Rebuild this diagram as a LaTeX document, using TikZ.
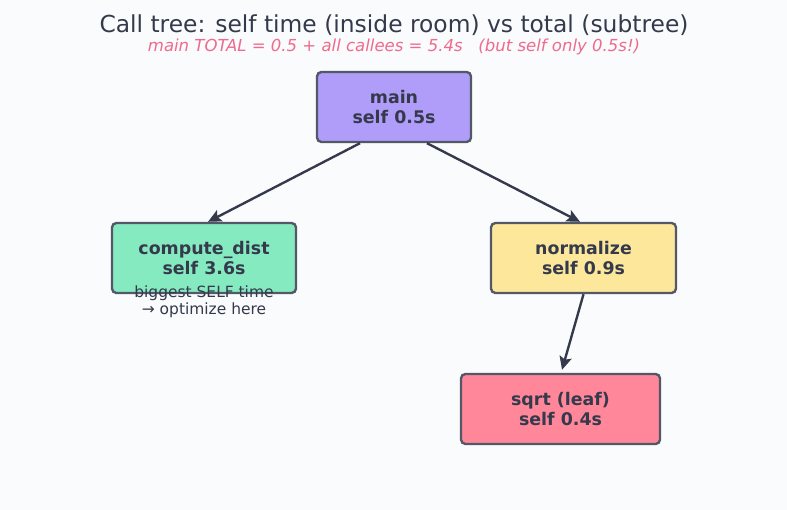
\documentclass[tikz,border=0pt]{standalone}
\usepackage{fontspec}
\setmainfont{DejaVu Sans}
\usetikzlibrary{positioning,arrows.meta}
\definecolor{ink}{HTML}{343A4C}
\definecolor{pagebg}{HTML}{FAFBFD}
\definecolor{accent}{HTML}{EF6A8B}
\definecolor{mainfill}{HTML}{B09DF9}
\definecolor{distfill}{HTML}{86EAC1}
\definecolor{normfill}{HTML}{FCE79B}
\definecolor{sqrtfill}{HTML}{FF8799}
\tikzset{heading/.style={text=ink,font=\fontsize{13.3}{15}\selectfont,inner sep=0pt}}
\tikzset{subheading/.style={text=accent,font=\itshape\fontsize{9.4}{11}\selectfont,inner sep=0pt}}
\tikzset{box/.style={rectangle,draw=ink!85,line width=1.35pt,rounded corners=2.5pt,minimum height=1.4cm,align=center,text=ink,font=\bfseries\fontsize{9.9}{11.9}\selectfont}}
\tikzset{note/.style={align=center,text=ink,inner sep=0pt,font=\fontsize{8.8}{9.6}\selectfont}}
\tikzset{call/.style={draw=ink,line width=1.35pt,-{Stealth[length=7.5pt,width=7pt,inset=1.5pt]}}}

\begin{document}
\begin{tikzpicture}[node distance=3.02cm]
    \fill[pagebg] (0,0) rectangle (15.74,-10.2);
    \useasboundingbox (0,0) rectangle (15.74,-10.2);

    \node[heading] (title) at (7.88,-0.51) {Call tree: self time (inside room) vs total (subtree)};
    \node[subheading,below of=title,node distance=0.42cm] (sub) {main TOTAL = 0.5 + all callees = 5.4s\ \ \ (but self only 0.5s!)};

    \node[box,fill=mainfill,minimum width=3.08cm] (main) at (7.88,-2.14) {main\\self 0.5s};
    \node[box,fill=distfill,minimum width=3.68cm,below of=main,xshift=-3.8cm] (dist) {compute\_dist\\self 3.6s};
    \node[box,fill=normfill,minimum width=3.7cm,below of=main,xshift=3.79cm] (norm) {normalize\\self 0.9s};
    \node[box,fill=sqrtfill,minimum width=3.98cm,below of=norm,xshift=-0.46cm] (sqrt) {sqrt (leaf)\\self 0.4s};

    \node[note,below of=dist,node distance=0.87cm] (hint) {biggest SELF time\\→ optimize here};

    \path[call] ([xshift=-0.68cm]main.south) -- ([xshift=0.08cm]dist.north);
    \path[call] ([xshift=0.66cm]main.south) -- ([xshift=-0.07cm]norm.north);
    \path[call] (norm.south) -- ([xshift=0.03cm,yshift=0.06cm]sqrt.north);
\end{tikzpicture}
\end{document}
